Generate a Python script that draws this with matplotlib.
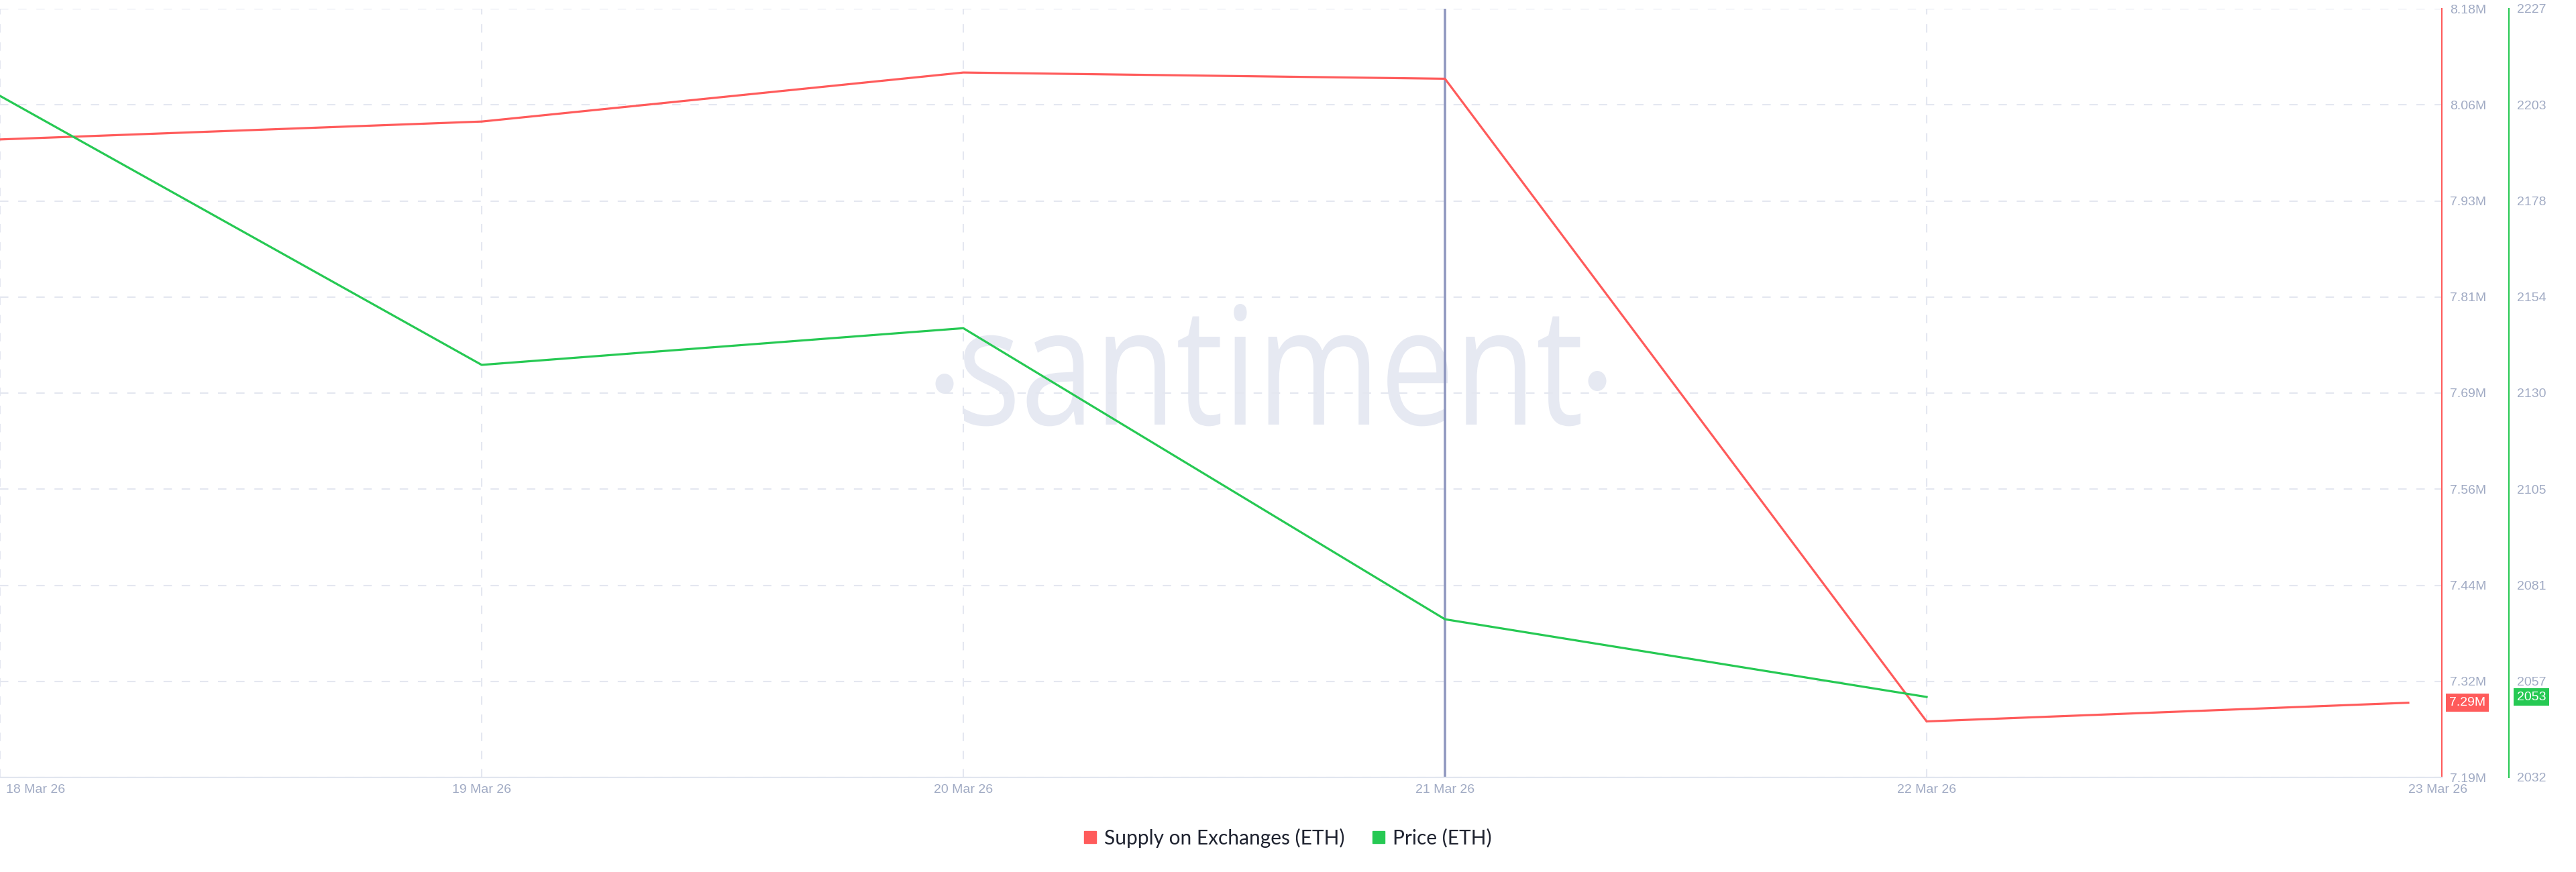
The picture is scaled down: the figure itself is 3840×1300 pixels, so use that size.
import numpy as np
import matplotlib
matplotlib.use('Agg')
import matplotlib.pyplot as plt
from matplotlib.lines import Line2D
from matplotlib.textpath import TextPath
from matplotlib.patches import PathPatch, Ellipse
from matplotlib.font_manager import FontProperties
from matplotlib.transforms import Affine2D, ScaledTranslation, blended_transform_factory

# data
dates = ['18 Mar 26', '19 Mar 26', '20 Mar 26', '21 Mar 26', '22 Mar 26', '23 Mar 26']
supply = [8.013, 8.036, 8.099, 8.091, 7.265, 7.289]       # millions ETH
price = [2205.1, 2136.9, 2146.2, 2072.4, 2052.7]           # USD, no value for 23 Mar

supply_lim = (7.193, 8.181)
price_lim = (2032.3, 2227.2)

RED = '#ff5b5b'
GREEN = '#26c953'
TICK = '#a1abc4'
GRID = '#e4e7f0'

W, H = 3840, 1300
fig = plt.figure(figsize=(W / 100, H / 100), dpi=100)
plt.rcParams['font.family'] = ['Liberation Sans', 'DejaVu Sans']

ax = fig.add_axes([0, 1 - 1159 / H, 3640 / W, (1159 - 13) / H])
ax.patch.set_visible(False)
ax2 = ax.twinx()

x = np.arange(len(dates))
ax.set_xlim(0, 3640 / 718)

# supply on the first axis
ax.plot(x, supply, color=RED, lw=2.3, zorder=3)
ax.set_ylim(*supply_lim)
sticks = np.linspace(supply_lim[0], supply_lim[1], 9)
ax.set_yticks(sticks)
ax.set_yticklabels([f'{v:.2f}M' for v in sticks])
ax.yaxis.tick_right()

# price on the second axis
ax2.plot(x[:len(price)], price, color=GREEN, lw=2.3, zorder=3)
ax2.set_ylim(*price_lim)
pticks = np.linspace(price_lim[0], price_lim[1], 9)
ax2.set_yticks(pticks)
ax2.set_yticklabels([f'{v:.0f}' for v in pticks])
ax2.spines['right'].set_position(('axes', 3740 / 3640))

for a in (ax, ax2):
    for s in ('left', 'top'):
        a.spines[s].set_visible(False)
    a.tick_params(axis='y', length=0, pad=8.6, labelsize=14, labelcolor=TICK)
ax2.spines['bottom'].set_visible(False)
ax.spines['right'].set_color(RED)
ax.spines['right'].set_linewidth(1.5)
ax2.spines['right'].set_color(GREEN)
ax2.spines['right'].set_linewidth(1.5)
ax.spines['bottom'].set_color('#e1e6ef')
ax.spines['bottom'].set_linewidth(1.5)

ax.set_xticks(x)
ax.set_xticklabels(dates)
ax.tick_params(axis='x', length=0, pad=7, labelsize=14, labelcolor=TICK)
xl = ax.get_xticklabels()
xl[0].set_ha('left')
xl[0].set_transform(xl[0].get_transform() + ScaledTranslation(0.09, 0, fig.dpi_scale_trans))
xl[-1].set_ha('left')

ax.grid(True, color=GRID, lw=1.5, linestyle=(0, (6, 7)), zorder=0)
ax.set_axisbelow(True)
ax.xaxis.get_major_ticks()[-1].gridline.set_visible(False)

# crosshair on 21 Mar
ax.axvline(3, color='#8f97bf', lw=2.6, zorder=2)

# last value tags
tr_red = blended_transform_factory(ax.transAxes, ax.transData)
ax.text(1 + 11 / 3640, supply[-1], f'{supply[-1]:.2f}M', transform=tr_red,
        ha='left', va='center', fontsize=14, color='white', clip_on=False,
        bbox=dict(boxstyle='square,pad=0.25', fc=RED, ec='none'))
tr_green = blended_transform_factory(ax2.transAxes, ax2.transData)
ax2.text(3752 / 3640, price[-1], f'{price[-1]:.0f}', transform=tr_green,
         ha='left', va='center', fontsize=14, color='white', clip_on=False,
         bbox=dict(boxstyle='square,pad=0.25', fc=GREEN, ec='none'))

# watermark
pix = Affine2D().scale(1 / W, 1 / H) + fig.transFigure
fp = FontProperties(family='Open Sans')
tp = TextPath((0, 0), 'santiment', size=100, prop=fp)
xh = TextPath((0, 0), 'x', size=100, prop=fp).get_extents().height
ext = tp.get_extents()
wm_tr = Affine2D().translate(-ext.x0, 0).scale(919 / ext.width, 131 / xh).translate(1437, H - 633) + pix
fig.add_artist(PathPatch(tp, transform=wm_tr, fc='#e6e9f2', ec='none', zorder=-1))
for cx, cy in [(1408, 572), (2381, 568)]:
    fig.add_artist(Ellipse((cx, H - cy), 27, 30, transform=pix, fc='#e6e9f2', ec='none', zorder=-1))

# legend
handles = [Line2D([], [], ls='', marker='s', markersize=13, color=RED),
           Line2D([], [], ls='', marker='s', markersize=13, color=GREEN)]
fig.legend(handles, ['Supply on Exchanges (ETH)', 'Price (ETH)'], loc='center',
           bbox_to_anchor=(0.5, 1 - 1249 / H), ncol=2, frameon=False,
           handlelength=0.6, handletextpad=0.4, columnspacing=1.4,
           prop=FontProperties(family='Lato', size=21.5), labelcolor='#1f2330')

fig.savefig('out.png', dpi=100)
